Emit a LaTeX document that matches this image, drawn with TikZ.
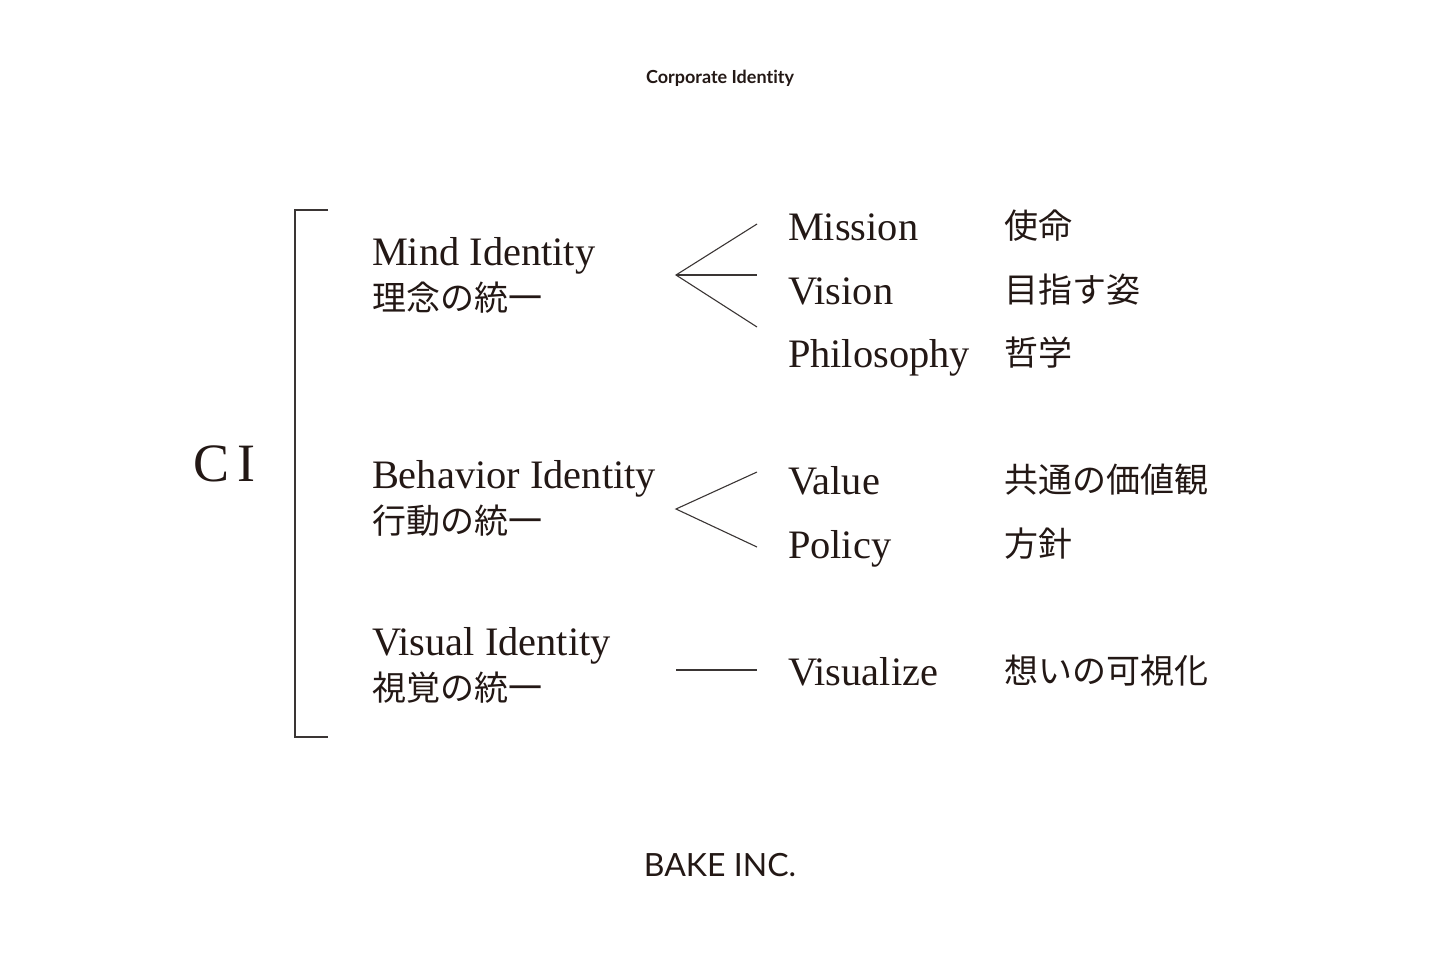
\documentclass[tikz,border=0pt]{standalone}
\usepackage{fontspec}
\setmainfont{Liberation Serif}
\newfontfamily\jp{Noto Sans CJK JP}
\newfontfamily\gill[Ligatures=NoCommon]{Lato}
\definecolor{ink}{HTML}{231815}
\definecolor{rule}{HTML}{3A3534}
\begin{document}
\begin{tikzpicture}[x=0.5pt,y=-0.5pt,
  every node/.style={inner sep=0pt,outer sep=0pt,text=ink,anchor=base west},
  en/.style={font=\fontsize{20.2}{24}\selectfont},
  ja/.style={font=\jp\fontsize{17}{20}\selectfont},
  link/.style={draw=rule,line width=0.55pt}]
\useasboundingbox (0,0) rectangle (1440,960);
\node[anchor=base] (title) at (720,83) {\gill\bfseries\fontsize{9}{11}\selectfont Corporate Identity};
\node[anchor=base] (footer) at (720,876) {\gill\fontsize{16}{19}\selectfont BAKE INC.};
% bracket
\coordinate (bt) at (328,210);
\coordinate (bb) at (328,737);
\draw[link] (bt) -- (295,210) -- (295,737) -- (bb);
\node (ci) at (193,481) {\fontsize{27}{30}\selectfont C\hspace{4pt}I};
% left groups
\node[en] (mind) at (372,265) {Mind Identity};
\node[ja] (mindj) at (372,310) {理念の統一};
\node[en] (beh) at (372,488) {Behavior Identity};
\node[ja] (behj) at (372,533) {行動の統一};
\node[en] (vis) at (372,655) {Visual Identity};
\node[ja] (visj) at (372,700) {視覚の統一};
% right items
\node[en] (mission) at (788,240) {Mission};
\node[en] (vision) at (788,304) {Vision};
\node[en] (philo) at (788,367) {Philosophy};
\node[en] (value) at (788,494) {Value};
\node[en] (policy) at (788,558) {Policy};
\node[en] (visualize) at (788,685) {Visualize};
\node[ja] (missionj) at (1004,238) {使命};
\node[ja] (visionj) at (1004,302) {目指す姿};
\node[ja] (philoj) at (1004,365) {哲学};
\node[ja] (valuej) at (1004,492) {共通の価値観};
\node[ja] (policyj) at (1004,556) {方針};
\node[ja] (visualizej) at (1004,683) {想いの可視化};
% forks
\coordinate (f1) at (676,275);
\coordinate (f1a) at (757,224);
\coordinate (f1b) at (757,275);
\coordinate (f1c) at (757,327);
\draw[link] (f1a) -- (f1) -- (f1c);
\draw[link] (f1) -- (f1b);
\coordinate (f2) at (676,509);
\coordinate (f2a) at (757,472);
\coordinate (f2b) at (757,547);
\draw[link] (f2a) -- (f2) -- (f2b);
\coordinate (f3) at (676,670);
\coordinate (f3a) at (757,670);
\draw[link] (f3) -- (f3a);
\end{tikzpicture}
\end{document}
